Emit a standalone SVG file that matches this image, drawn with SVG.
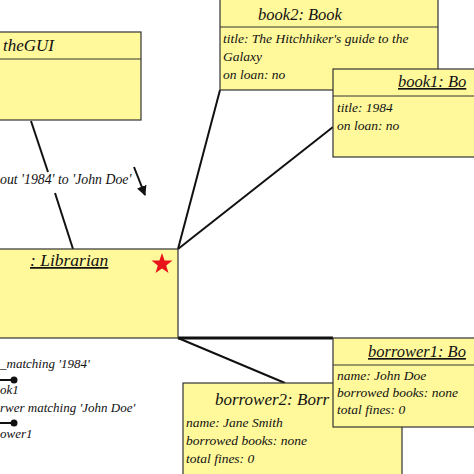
<svg xmlns="http://www.w3.org/2000/svg" width="474" height="474" viewBox="0 0 474 474">
<style>
.box{fill:#FFF99C;stroke:#333;stroke-width:1.2}
.div{stroke:#333;stroke-width:1}
text{font-family:"Liberation Serif","DejaVu Serif",serif;font-style:italic;fill:#111}
.h{font-size:16.5px}
.t{font-size:13.5px}
.l{font-size:13px}
.c{stroke:#111;stroke-width:2;fill:none}
</style>
<defs>
<marker id="ah" viewBox="0 0 10 10" refX="9" refY="5" markerWidth="5" markerHeight="5" orient="auto"><path d="M0,0 L10,5 L0,10 z" fill="#111"/></marker>
</defs>
<rect width="474" height="474" fill="#fff"/>
<g id="connectors" font-family="Liberation Serif, serif">
<line class="c" x1="31" y1="121" x2="48" y2="172"/>
<line class="c" x1="55" y1="193" x2="73" y2="249"/>
<line class="c" x1="134" y1="167" x2="145" y2="195" marker-end="url(#ah)"/>
<line class="c" x1="220" y1="90" x2="178" y2="249"/>
<line class="c" x1="333" y1="127" x2="178" y2="249"/>
<line class="c" x1="178" y1="338" x2="333" y2="338" style="stroke-width:3"/>
<line class="c" x1="178" y1="338" x2="285" y2="383"/>
<text style="font-size:13.8px" x="0" y="184">out '1984' to 'John Doe'</text>
<text class="l" x="0" y="368">_matching '1984'</text>
<line class="c" x1="0" y1="380" x2="13" y2="380"/>
<circle cx="14" cy="380" r="3.5" fill="#111"/>
<text class="l" x="0" y="394">ok1</text>
<text class="l" x="0" y="412">rwer matching 'John Doe'</text>
<line class="c" x1="0" y1="423" x2="13" y2="423"/>
<circle cx="14" cy="423" r="3.5" fill="#111"/>
<text class="l" x="0" y="438">ower1</text>
</g>
<g id="theGUI">
<rect class="box" x="-2" y="32" width="143" height="88"/>
<line class="div" x1="0" y1="59" x2="141" y2="59"/>
<text class="h" x="3" y="51" style="font-size:17px">theGUI</text>
</g>
<g id="book2">
<rect class="box" x="220" y="-2" width="218" height="92"/>
<line class="div" x1="220" y1="27" x2="438" y2="27"/>
<text class="h" x="300" y="20" text-anchor="middle">book2: Book</text>
<text class="t" x="223" y="43">title: The Hitchhiker's guide to the</text>
<text class="t" x="223" y="61">Galaxy</text>
<text class="t" x="223" y="79">on loan: no</text>
</g>
<g id="book1">
<rect class="box" x="333" y="69" width="145" height="88"/>
<line class="div" x1="333" y1="96" x2="474" y2="96"/>
<text class="h" x="398" y="87" text-decoration="underline">book1: Bo</text>
<text class="t" x="337" y="112">title: 1984</text>
<text class="t" x="337" y="130">on loan: no</text>
</g>
<g id="librarian">
<rect class="box" x="-2" y="249" width="180" height="89"/>
<text class="h" x="30" y="266" style="font-size:17.5px" text-decoration="underline">: Librarian</text>
<polygon points="162,253 164.6,260.4 172.5,260.6 166.2,265.4 168.5,273 162,268.5 155.5,273 157.8,265.4 151.5,260.6 159.4,260.4" fill="#E8141A"/>
</g>
<g id="borrower2">
<rect class="box" x="183" y="383" width="219" height="95"/>
<text class="h" x="215" y="405" style="font-size:17px">borrower2: Borr</text>
<text class="t" x="186" y="427">name: Jane Smith</text>
<text class="t" x="186" y="445">borrowed books: none</text>
<text class="t" x="186" y="463">total fines: 0</text>
</g>
<g id="borrower1">
<rect class="box" x="333" y="338" width="145" height="89"/>
<line class="div" x1="333" y1="365" x2="474" y2="365"/>
<text class="h" x="368" y="357" text-decoration="underline">borrower1: Bo</text>
<text class="t" x="337" y="380">name: John Doe</text>
<text class="t" x="337" y="397">borrowed books: none</text>
<text class="t" x="337" y="414">total fines: 0</text>
</g>
</svg>
